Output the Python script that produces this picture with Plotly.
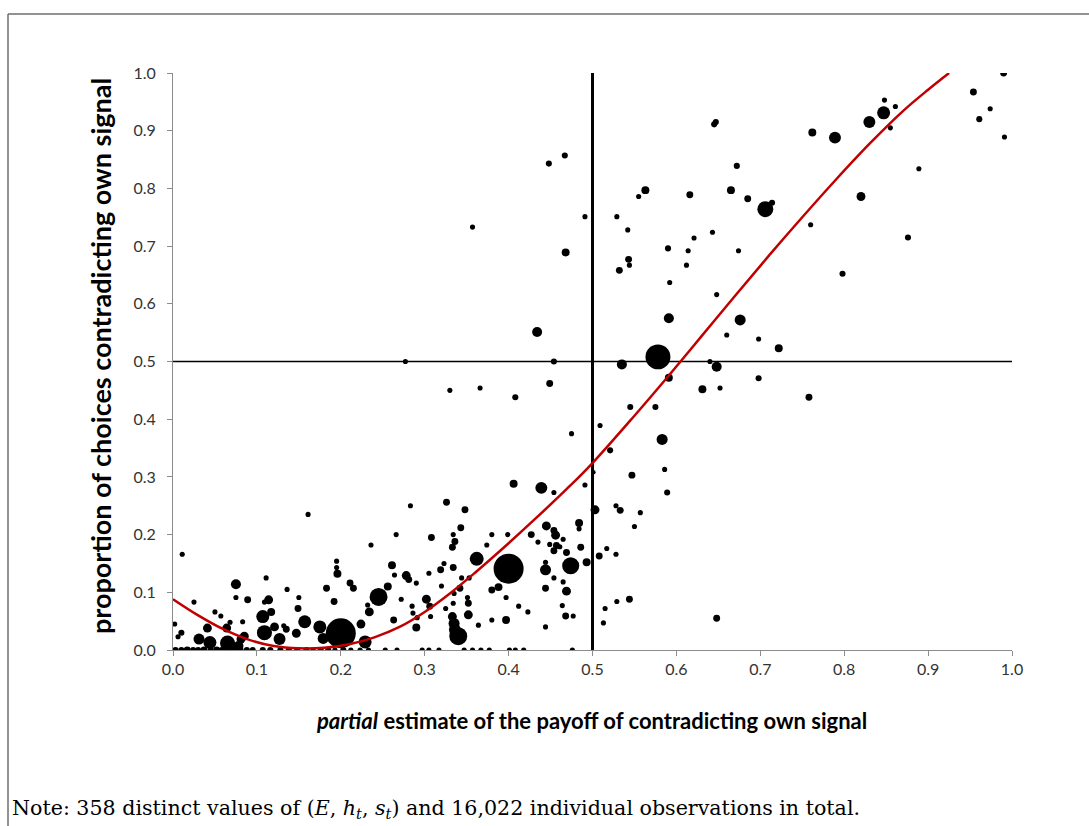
import plotly.graph_objects as go
import numpy as np

# ---------------- data ----------------
pt_x = [0.990, 0.954, 0.974, 0.961, 0.991, 0.848, 0.861, 0.847, 0.830, 0.855,
        0.889, 0.876, 0.820, 0.789, 0.762, 0.798, 0.760, 0.706, 0.714, 0.685,
        0.665, 0.672, 0.643, 0.621, 0.616, 0.647, 0.645, 0.563, 0.555, 0.529,
        0.542, 0.543, 0.544, 0.532, 0.590, 0.614, 0.612, 0.674, 0.592, 0.648,
        0.591, 0.676, 0.660, 0.698, 0.722, 0.578, 0.535, 0.640, 0.648, 0.591,
        0.698, 0.631, 0.652, 0.758, 0.648,
        0.448, 0.467, 0.357, 0.491, 0.468, 0.434, 0.277, 0.454, 0.449, 0.366, 0.330,
        0.408, 0.475, 0.509, 0.521, 0.545, 0.575, 0.583, 0.547, 0.586, 0.589,
        0.501, 0.491, 0.454, 0.406, 0.439, 0.283, 0.326, 0.348, 0.503, 0.528,
        0.533, 0.557, 0.550, 0.484, 0.484, 0.445, 0.454, 0.456, 0.465, 0.449,
        0.457, 0.454, 0.461, 0.469, 0.486, 0.427, 0.435, 0.399, 0.380, 0.374,
        0.343, 0.308, 0.334, 0.336, 0.333, 0.362, 0.400, 0.474, 0.444, 0.444,
        0.493, 0.508, 0.517, 0.528, 0.454, 0.465, 0.444, 0.469, 0.388, 0.380,
        0.397, 0.323, 0.334, 0.319, 0.305, 0.344, 0.353, 0.278, 0.281, 0.290,
        0.320, 0.342, 0.335, 0.302, 0.306, 0.272, 0.285, 0.325, 0.334, 0.351,
        0.352, 0.352, 0.307, 0.291, 0.290, 0.364, 0.380, 0.397, 0.412, 0.423,
        0.464, 0.468, 0.477, 0.444, 0.515, 0.513, 0.529, 0.544, 0.333, 0.335,
        0.336, 0.340,
        0.011, 0.161, 0.266, 0.236, 0.195, 0.195, 0.196, 0.211, 0.215, 0.261,
        0.264, 0.256, 0.245, 0.234, 0.232, 0.263, 0.286, 0.075, 0.075, 0.089,
        0.025, 0.002, 0.010, 0.006, 0.050, 0.057, 0.064, 0.041, 0.031, 0.044,
        0.065, 0.081, 0.085, 0.083, 0.111, 0.114, 0.107, 0.109, 0.121, 0.127,
        0.132, 0.135, 0.136, 0.147, 0.149, 0.150, 0.157, 0.175, 0.183, 0.192,
        0.200, 0.179, 0.224, 0.229, 0.068, 0.117, 0.078, 0.109,
        0.003, 0.010, 0.017, 0.024, 0.030, 0.037, 0.045, 0.052, 0.058, 0.066,
        0.073, 0.080, 0.088, 0.095, 0.107, 0.116, 0.128, 0.138, 0.148, 0.159,
        0.167, 0.176, 0.185, 0.193, 0.203, 0.212, 0.223, 0.233, 0.253, 0.267,
        0.297, 0.305, 0.317, 0.347, 0.357, 0.367, 0.377, 0.401, 0.408, 0.418,
        0.476]
pt_y = [1.000, 0.967, 0.938, 0.920, 0.889, 0.953, 0.942, 0.931, 0.915, 0.905,
        0.834, 0.715, 0.786, 0.888, 0.897, 0.652, 0.737, 0.764, 0.775, 0.782,
        0.797, 0.839, 0.724, 0.714, 0.789, 0.915, 0.911, 0.797, 0.786, 0.751,
        0.728, 0.677, 0.667, 0.658, 0.696, 0.692, 0.667, 0.692, 0.637, 0.616,
        0.575, 0.572, 0.546, 0.539, 0.523, 0.508, 0.495, 0.500, 0.491, 0.472,
        0.471, 0.452, 0.454, 0.438, 0.055,
        0.843, 0.857, 0.733, 0.751, 0.689, 0.551, 0.500, 0.500, 0.462, 0.454, 0.450,
        0.438, 0.375, 0.389, 0.346, 0.421, 0.421, 0.365, 0.303, 0.313, 0.273,
        0.308, 0.286, 0.273, 0.288, 0.281, 0.250, 0.256, 0.243, 0.243, 0.250,
        0.242, 0.238, 0.214, 0.220, 0.210, 0.215, 0.207, 0.199, 0.192, 0.183,
        0.181, 0.172, 0.179, 0.169, 0.178, 0.200, 0.187, 0.200, 0.200, 0.182,
        0.212, 0.195, 0.200, 0.188, 0.178, 0.158, 0.141, 0.146, 0.139, 0.152,
        0.152, 0.163, 0.176, 0.166, 0.125, 0.118, 0.107, 0.102, 0.109, 0.104,
        0.091, 0.150, 0.143, 0.139, 0.133, 0.125, 0.125, 0.129, 0.122, 0.116,
        0.111, 0.107, 0.098, 0.088, 0.076, 0.088, 0.076, 0.072, 0.081, 0.091,
        0.081, 0.061, 0.058, 0.056, 0.039, 0.043, 0.052, 0.052, 0.076, 0.066,
        0.077, 0.059, 0.059, 0.040, 0.072, 0.047, 0.084, 0.088, 0.058, 0.046,
        0.035, 0.024,
        0.166, 0.235, 0.200, 0.182, 0.154, 0.143, 0.132, 0.116, 0.107, 0.147,
        0.130, 0.110, 0.092, 0.066, 0.078, 0.052, 0.064, 0.114, 0.091, 0.087,
        0.083, 0.045, 0.030, 0.023, 0.066, 0.059, 0.038, 0.038, 0.019, 0.013,
        0.012, 0.019, 0.024, 0.049, 0.125, 0.087, 0.058, 0.030, 0.040, 0.019,
        0.042, 0.036, 0.105, 0.029, 0.072, 0.091, 0.049, 0.040, 0.107, 0.084,
        0.029, 0.020, 0.045, 0.014, 0.048, 0.066, 0.007, 0.083,
        0.0, 0.0, 0.0, 0.0, 0.0, 0.0, 0.0, 0.0, 0.0, 0.0,
        0.0, 0.0, 0.0, 0.0, 0.0, 0.0, 0.0, 0.0, 0.0, 0.0,
        0.0, 0.0, 0.0, 0.0, 0.0, 0.0, 0.0, 0.0, 0.0, 0.0,
        0.0, 0.0, 0.0, 0.0, 0.0, 0.0, 0.0, 0.0, 0.0, 0.0,
        0.0]
# approximate number of observations behind each point (bubble area)
pt_n = [9, 9, 5, 7, 5, 5, 5, 32, 27, 5,
        5, 7, 15, 27, 12, 7, 5, 48, 7, 9,
        12, 7, 5, 5, 9, 7, 7, 12, 5, 5,
        5, 9, 5, 9, 7, 5, 5, 5, 5, 5,
        19, 23, 5, 5, 12, 118, 19, 5, 19, 12,
        7, 12, 5, 9, 9,
        7, 7, 5, 5, 12, 19, 5, 7, 9, 5, 5,
        7, 5, 5, 7, 7, 7, 23, 9, 5, 7,
        4, 5, 5, 12, 27, 5, 9, 9, 15, 5,
        9, 5, 5, 12, 5, 15, 9, 15, 5, 5,
        9, 9, 5, 9, 9, 9, 5, 5, 5, 5,
        9, 9, 5, 9, 9, 37, 170, 55, 23, 5,
        12, 9, 5, 5, 5, 5, 9, 15, 12, 9,
        5, 5, 9, 9, 5, 5, 5, 15, 9, 5,
        5, 9, 5, 15, 9, 5, 5, 5, 5, 5,
        9, 15, 5, 5, 12, 5, 5, 12, 5, 5,
        5, 9, 5, 5, 5, 5, 5, 9, 15, 23,
        27, 61,
        5, 5, 5, 5, 5, 5, 12, 9, 9, 12,
        5, 12, 61, 15, 5, 9, 5, 19, 5, 9,
        5, 5, 7, 5, 5, 5, 15, 15, 23, 32,
        43, 15, 15, 5, 5, 15, 32, 43, 15, 27,
        5, 9, 5, 15, 9, 5, 32, 32, 9, 9,
        170, 23, 15, 32, 5, 12, 19, 5,
        7, 7, 9, 7, 7, 9, 7, 9, 7, 9,
        7, 9, 7, 7, 7, 7, 7, 7, 7, 7,
        5, 7, 7, 5, 7, 5, 5, 5, 5, 5,
        5, 5, 5, 5, 5, 5, 5, 5, 5, 5,
        5]

# fitted curve
curve_x = [0.00, 0.03, 0.06, 0.09, 0.12, 0.15, 0.18, 0.21, 0.24, 0.27,
           0.30, 0.33, 0.36, 0.39, 0.43, 0.47, 0.50, 0.55, 0.59, 0.63,
           0.67, 0.71, 0.75, 0.79, 0.83, 0.87, 0.90, 0.925]
curve_y = [0.088, 0.060, 0.036, 0.018, 0.007, 0.003, 0.004, 0.010, 0.022, 0.040,
           0.066, 0.098, 0.134, 0.172, 0.225, 0.280, 0.324, 0.406, 0.474, 0.544,
           0.614, 0.683, 0.750, 0.815, 0.877, 0.934, 0.971, 1.000]

ref_x = 0.5   # vertical reference line
ref_y = 0.5   # horizontal reference line
tick_vals = [0.0, 0.1, 0.2, 0.3, 0.4, 0.5, 0.6, 0.7, 0.8, 0.9, 1.0]

x_title = "<b><i>partial</i> estimate of the payoff of contradicting own signal</b>"
y_title = "<b>proportion of choices contradicting own signal</b>"
note_text = ("Note: 358 distinct values of (<i>E</i>, <i>h</i><sub><i>t</i></sub>, "
             "<i>s</i><sub><i>t</i></sub>) and 16,022 individual observations in total.")

# ---------------- figure ----------------
W, H = 1089, 826
ML, MR, MT, MB = 173, 77, 73, 176
PW, PH = W - ML - MR, H - MT - MB

def px_x(p):  # pixel -> paper x
    return (p - ML) / PW

def px_y(p):  # pixel (from top) -> paper y
    return (H - MB - p) / PH

fig = go.Figure()

# reference lines
fig.add_trace(go.Scatter(x=[0, 1], y=[ref_y, ref_y], mode="lines",
                         line=dict(color="black", width=1.5),
                         hoverinfo="skip", showlegend=False))
fig.add_trace(go.Scatter(x=[ref_x, ref_x], y=[0, 1], mode="lines",
                         line=dict(color="black", width=3),
                         hoverinfo="skip", showlegend=False))

# bubbles
sizes = 2.3 * np.sqrt(np.array(pt_n, dtype=float))
fig.add_trace(go.Scatter(x=pt_x, y=pt_y, mode="markers",
                         marker=dict(color="black", size=sizes, opacity=1,
                                     line=dict(width=0)),
                         showlegend=False))

# fitted curve
fig.add_trace(go.Scatter(x=curve_x, y=curve_y, mode="lines",
                         line=dict(color="#C00000", width=2.5, shape="spline", smoothing=1.0),
                         showlegend=False))

axis_common = dict(
    range=[0, 1], tickvals=tick_vals, tickformat=".1f",
    showline=True, linecolor="#8C8C8C", linewidth=1,
    ticks="outside", ticklen=5, tickcolor="#8C8C8C", tickwidth=1,
    showgrid=False, zeroline=False,
    tickfont=dict(family="Lato", size=16, color="#333333"),
)
fig.update_xaxes(**axis_common)
fig.update_yaxes(**axis_common, ticklabelstandoff=8)

fig.update_layout(
    width=W, height=H,
    margin=dict(l=ML, r=MR, t=MT, b=MB),
    plot_bgcolor="white", paper_bgcolor="white",
    showlegend=False,
)

# axis titles
fig.add_annotation(text=x_title, xref="paper", yref="paper",
                   x=px_x(591), y=px_y(720), xanchor="center", yanchor="middle",
                   showarrow=False, font=dict(family="Lato", size=22, color="black"))
fig.add_annotation(text=y_title, xref="paper", yref="paper",
                   x=px_x(100), y=px_y(356), xanchor="center", yanchor="middle",
                   textangle=-90, showarrow=False,
                   font=dict(family="Lato", size=27, color="black"))
# note
fig.add_annotation(text=note_text, xref="paper", yref="paper",
                   x=px_x(10), y=px_y(809), xanchor="left", yanchor="middle",
                   showarrow=False, font=dict(family="DejaVu Serif", size=20.6, color="black"))

# outer frame (top and left edges)
fig.add_shape(type="line", xref="paper", yref="paper",
              x0=px_x(8), y0=px_y(14), x1=px_x(1095), y1=px_y(14),
              line=dict(color="#6E6E6E", width=1.5))
fig.add_shape(type="line", xref="paper", yref="paper",
              x0=px_x(8), y0=px_y(14), x1=px_x(8), y1=px_y(830),
              line=dict(color="#6E6E6E", width=1.5))

fig.write_html("out.html",
               config={"displayModeBar": False},
               post_script="document.body.style.margin='0px';document.body.style.overflow='hidden';")
